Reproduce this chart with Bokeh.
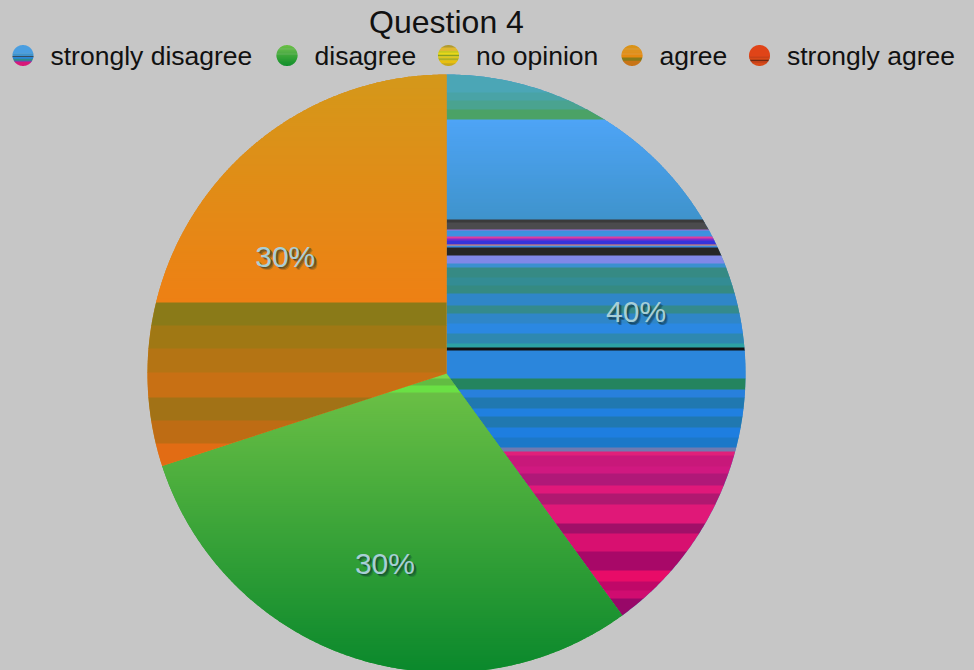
import numpy as np
from bokeh.plotting import figure
from bokeh.models import Range1d
from bokeh.core.properties import value
from bokeh.embed import file_html
from bokeh.resources import INLINE

# ---------------- data ----------------
TITLE = "Question 4"
categories = ["strongly disagree", "disagree", "no opinion", "agree", "strongly agree"]
percent = [40, 30, 0, 30, 0]

# ---------------- layout / style ----------------
W, H = 974, 670
BG = "#c6c6c6"
CX, CY, R = 446, 373, 299
FONT = "Liberation Sans"
TOP = CY - R  # pie top in screen px


def hex2rgb(h):
    h = h.lstrip("#")
    return np.array([int(h[i:i + 2], 16) for i in (0, 2, 4)], dtype=float)


def rgb2hex(c):
    return "#%02x%02x%02x" % tuple(int(round(v)) for v in c)


def grad(y0, y1, c0, c1, step=2.0):
    out = []
    a, b = hex2rgb(c0), hex2rgb(c1)
    n = max(1, int(np.ceil((y1 - y0) / step)))
    for i in range(n):
        t = (i + 0.5) / n
        out.append((y0 + (y1 - y0) * i / n, y0 + (y1 - y0) * (i + 1) / n, rgb2hex(a + (b - a) * t)))
    return out


# stripe textures: (top, bottom, colour) as px below the pie top (pie diameter 598)
SLICE_BANDS = {
    "strongly disagree": (
        [(0, 18, "#4ba6b6"), (18, 26, "#49a3a6"), (26, 35, "#4aa390"), (35, 45, "#4ba266")]
        + grad(45, 145, "#4ea4f6", "#3f93cc")
        + [(145, 148, "#3a3a3a"), (148, 155, "#4b4b4d"), (155, 156, "#a070d8"),
           (156, 158, "#3a92dc"), (158, 162, "#3e90e0"), (162, 164, "#e03c9c"),
           (164, 166, "#7a2ccc"), (166, 170, "#3434dc"), (170, 171, "#f08a60"),
           (171, 173, "#3a8ae0"), (173, 181, "#262626"), (181, 189, "#8088e8"),
           (189, 193, "#3a90d0"), (193, 203, "#368a84"), (203, 211, "#338c94"),
           (211, 219, "#358a82"), (219, 231, "#2f86c8"), (231, 239, "#348a8c"),
           (239, 249, "#2f86c8"), (249, 259, "#2b88e2"), (259, 269, "#2e88b0"),
           (269, 273, "#2ca2a4"), (273, 276, "#111111"), (276, 304, "#2b86dc"),
           (304, 315, "#24845e"), (315, 323, "#2880dc"), (323, 334, "#2078b0"),
           (334, 342, "#2080e0"), (342, 353, "#2078b0"), (353, 363, "#1e7ee0"),
           (363, 373, "#1c78c8"), (373, 377, "#707ab0"), (377, 381, "#e0207a"),
           (381, 392, "#c8187a"), (392, 399, "#d01880"), (399, 411, "#b01878"),
           (411, 419, "#e0187a"), (419, 430, "#b01870"), (430, 449, "#e01878"),
           (449, 459, "#a01068"), (459, 477, "#d81070"), (477, 496, "#a80868"),
           (496, 507, "#e80c68"), (507, 516, "#c00868"), (516, 524, "#d00c70"),
           (524, 560, "#980868")]
    ),
    "disagree": (
        [(299, 304, "#7ad84c"), (304, 311, "#62bc42"), (311, 318, "#6ae044")]
        + grad(318, 598, "#6abf45", "#0a882c")
    ),
    "no opinion": [(0, 598, "#e0c81c")],
    "agree": (
        grad(0, 228, "#d4981a", "#ee8014")
        + [(228, 251, "#8a7a18"), (251, 274, "#a07814"), (274, 298, "#b47414"),
           (298, 323, "#c87014"), (323, 346, "#a27216"), (346, 369, "#be6c14"),
           (369, 400, "#e26c14")]
    ),
    "strongly agree": [(0, 598, "#e04418")],
}
SLICE_BASE = ["#3a8ed0", "#3aa83c", "#e0c81c", "#d88418", "#e04418"]

# legend marker textures: (top, bottom, colour) as fractions of marker diameter
MARKER_BANDS = [
    [(0, 0.40, "#4a9ee0"), (0.40, 0.52, "#3f93cc"), (0.52, 0.56, "#3a3a3a"),
     (0.56, 0.65, "#2a86d8"), (0.65, 0.75, "#2f8a8a"), (0.75, 0.80, "#7a40b0"),
     (0.80, 1.0, "#d81878")],
    grad(0, 1, "#6cc046", "#0f8e2c", step=0.05),
    [(0, 0.12, "#b09a30"), (0.12, 0.28, "#e0b830"), (0.28, 0.37, "#c8c820"),
     (0.37, 0.47, "#e8d818"), (0.47, 0.53, "#88a020"), (0.53, 0.63, "#e0c818"),
     (0.63, 0.73, "#b0b020"), (0.73, 0.87, "#e8c010"), (0.87, 1.0, "#c8a818")],
    grad(0, 0.6, "#d89418", "#e8880f", step=0.05)
    + [(0.6, 0.75, "#8a7a18"), (0.75, 1.0, "#c87416")],
    [(0, 0.55, "#e04418"), (0.55, 0.62, "#c84018"), (0.62, 0.70, "#d84818"),
     (0.70, 0.76, "#702810"), (0.76, 0.85, "#c04018"), (0.85, 1.0, "#d84a18")],
]
LEG_MARKER_X = [22.5, 286.5, 448, 631.5, 759]
LEG_Y = 55
LEG_TEXT_DX = 27.5
LEG_R = 10.5


# ---------------- geometry helpers ----------------
def clip_half(pts, keep, ycut):
    out = []
    n = len(pts)
    for i in range(n):
        cur, prev = pts[i], pts[i - 1]
        cin, pin = keep(cur), keep(prev)
        if cin != pin:
            t = (ycut - prev[1]) / (cur[1] - prev[1])
            out.append((prev[0] + t * (cur[0] - prev[0]), ycut))
        if cin:
            out.append(cur)
    return out


def clip_band(pts, y0, y1):
    p = clip_half(pts, lambda q: q[1] >= y0, y0)
    if not p:
        return p
    return clip_half(p, lambda q: q[1] <= y1, y1)


def sector(t0, t1, n=300):
    th = np.linspace(t0, t1, n)
    return [(CX, CY)] + list(zip(CX + R * np.sin(th), CY - R * np.cos(th)))


def circle(cx, cy, r, n=80):
    th = np.linspace(0, 2 * np.pi, n, endpoint=False)
    return list(zip(cx + r * np.sin(th), cy - r * np.cos(th)))


# ---------------- figure ----------------
p = figure(width=W, height=H, output_backend="svg", toolbar_location=None,
           x_range=Range1d(0, W), y_range=Range1d(H, 0), min_border=0,
           background_fill_color=BG, border_fill_color=BG, outline_line_color=None)
p.axis.visible = False
p.grid.visible = False

xs_all, ys_all, cs_all = [], [], []

total = float(sum(percent))
fr = np.array(percent) / total
ends = np.cumsum(fr) * 2 * np.pi
starts = ends - fr * 2 * np.pi

for i, cat in enumerate(categories):
    if percent[i] <= 0:
        continue
    poly = sector(starts[i], ends[i])
    xs_all.append([q[0] for q in poly]); ys_all.append([q[1] for q in poly]); cs_all.append(SLICE_BASE[i])
    for (a, b, c) in SLICE_BANDS[cat]:
        seg = clip_band(poly, TOP + a * R / 299.0, TOP + b * R / 299.0 + 0.6)
        if len(seg) >= 3:
            xs_all.append([q[0] for q in seg]); ys_all.append([q[1] for q in seg]); cs_all.append(c)

# legend markers
for i, cat in enumerate(categories):
    mx = LEG_MARKER_X[i]
    poly = circle(mx, LEG_Y, LEG_R)
    top = LEG_Y - LEG_R
    for (a, b, c) in MARKER_BANDS[i]:
        seg = clip_band(poly, top + a * 2 * LEG_R, top + b * 2 * LEG_R + 0.4)
        if len(seg) >= 3:
            xs_all.append([q[0] for q in seg]); ys_all.append([q[1] for q in seg]); cs_all.append(c)

p.patches(xs_all, ys_all, fill_color=cs_all, line_color=None)

# legend texts
p.text(x=[m + LEG_TEXT_DX for m in LEG_MARKER_X], y=[LEG_Y] * len(categories), text=categories,
       text_font=value(FONT), text_font_size="26.5px", text_color="#111111",
       text_align="left", text_baseline="middle")

# title
p.text(x=[CX], y=[21], text=[TITLE], text_font=value(FONT), text_font_size="32px",
       text_color="#111111", text_align="center", text_baseline="middle")

# slice labels
lx, ly, lt = [], [], []
for i in range(len(categories)):
    if percent[i] <= 0:
        continue
    mid = (starts[i] + ends[i]) / 2
    lx.append(CX + R * 2 / 3 * np.sin(mid))
    ly.append(CY - R * 2 / 3 * np.cos(mid))
    lt.append(f"{percent[i]}%")

for dx, dy, al in [(3.0, 3.0, 0.2), (2.2, 2.2, 0.3), (1.4, 1.4, 0.4)]:
    p.text(x=[x + dx for x in lx], y=[y + dy for y in ly], text=lt, text_font=value(FONT),
           text_font_size="30px", text_color="#0a2a30", text_alpha=al,
           text_align="center", text_baseline="middle")
p.text(x=lx, y=ly, text=lt, text_font=value(FONT), text_font_size="30px",
       text_color="#a8cfd6", text_align="center", text_baseline="middle")

html = file_html(p, INLINE)
html = html.replace("</head>", "<style>html,body{margin:0;padding:0;background:%s;overflow:hidden}</style></head>" % BG, 1)
open("out.html", "w").write(html)
